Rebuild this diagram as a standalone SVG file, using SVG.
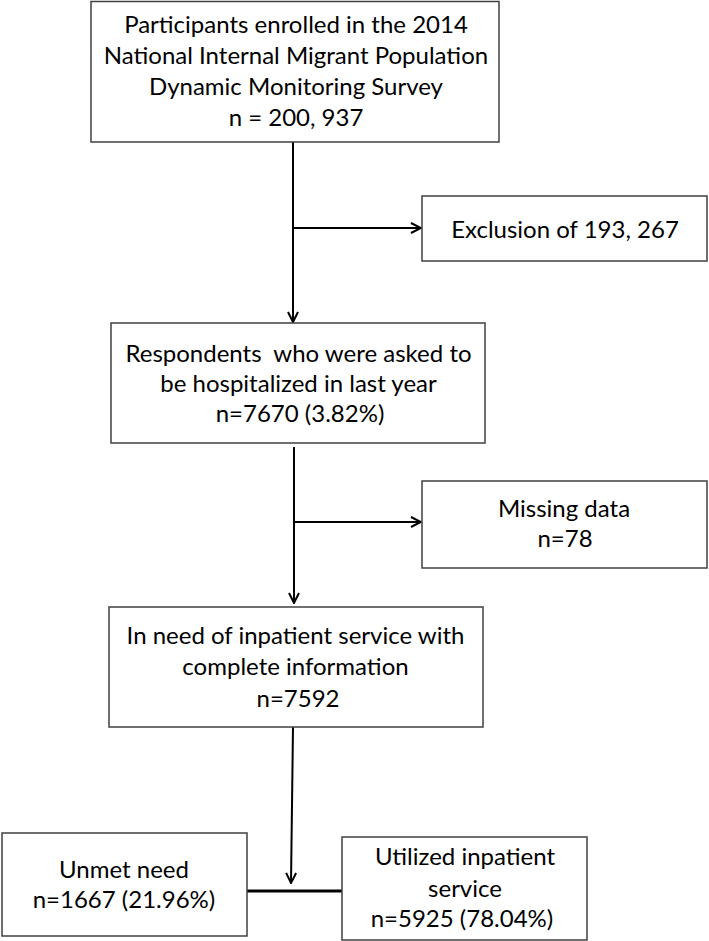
<svg xmlns="http://www.w3.org/2000/svg" width="709" height="941" viewBox="0 0 709 941">
  <style>
    .box { fill: #ffffff; stroke: #404040; stroke-width: 1.5; }
    .t { font-family: Lato, "Open Sans", "Liberation Sans", sans-serif; font-size: 24px; fill: #000000; text-anchor: middle; white-space: pre; }
    .ln { fill: none; stroke: #000000; stroke-width: 2; }
  </style>
  <defs>
    <marker id="arr" viewBox="0 0 12 12" refX="11" refY="6" markerWidth="12" markerHeight="12" markerUnits="userSpaceOnUse" orient="auto">
      <path d="M1,1 L11,6 L1,11" fill="none" stroke="#000000" stroke-width="2"/>
    </marker>
  </defs>
  <rect width="709" height="941" fill="#ffffff"/>

  <g id="connectors">
    <line class="ln" x1="293" y1="142" x2="293" y2="322" marker-end="url(#arr)"/>
    <line class="ln" x1="293" y1="228" x2="421" y2="228" marker-end="url(#arr)"/>
    <line class="ln" x1="294" y1="447" x2="294" y2="603" marker-end="url(#arr)"/>
    <line class="ln" x1="294" y1="522" x2="421" y2="522" marker-end="url(#arr)"/>
    <line class="ln" x1="293" y1="727" x2="291" y2="883" marker-end="url(#arr)"/>
    <line class="ln" x1="247" y1="891" x2="342" y2="891" style="stroke-width:3"/>
  </g>

  <g id="node-participants">
    <rect class="box" x="91" y="1.5" width="408" height="140.5"/>
    <text class="t" x="296" y="33">Participants enrolled in the 2014</text>
    <text class="t" x="296" y="64">National Internal Migrant Population</text>
    <text class="t" x="296" y="95">Dynamic Monitoring Survey</text>
    <text class="t" x="296" y="126">n = 200, 937</text>
  </g>

  <g id="node-exclusion">
    <rect class="box" x="422" y="196" width="285" height="65"/>
    <text class="t" x="565" y="238">Exclusion of 193, 267</text>
  </g>

  <g id="node-respondents">
    <rect class="box" x="111" y="323" width="374" height="120"/>
    <text class="t" x="298.5" y="362">Respondents  who were asked to</text>
    <text class="t" x="298.5" y="392">be hospitalized in last year</text>
    <text class="t" x="300" y="422">n=7670 (3.82%)</text>
  </g>

  <g id="node-missing">
    <rect class="box" x="422" y="481" width="285" height="87"/>
    <text class="t" x="564" y="517">Missing data</text>
    <text class="t" x="565" y="547">n=78</text>
  </g>

  <g id="node-inneed">
    <rect class="box" x="109" y="607" width="374" height="120"/>
    <text class="t" x="295.5" y="644">In need of inpatient service with</text>
    <text class="t" x="295.5" y="675">complete information</text>
    <text class="t" x="298" y="707">n=7592</text>
  </g>

  <g id="node-unmet">
    <rect class="box" x="2" y="833" width="245" height="103"/>
    <text class="t" x="124" y="878">Unmet need</text>
    <text class="t" x="124" y="908">n=1667 (21.96%)</text>
  </g>

  <g id="node-utilized">
    <rect class="box" x="342" y="837" width="245" height="103"/>
    <text class="t" x="465" y="865">Utilized inpatient</text>
    <text class="t" x="465" y="897">service</text>
    <text class="t" x="462" y="927">n=5925 (78.04%)</text>
  </g>
</svg>
